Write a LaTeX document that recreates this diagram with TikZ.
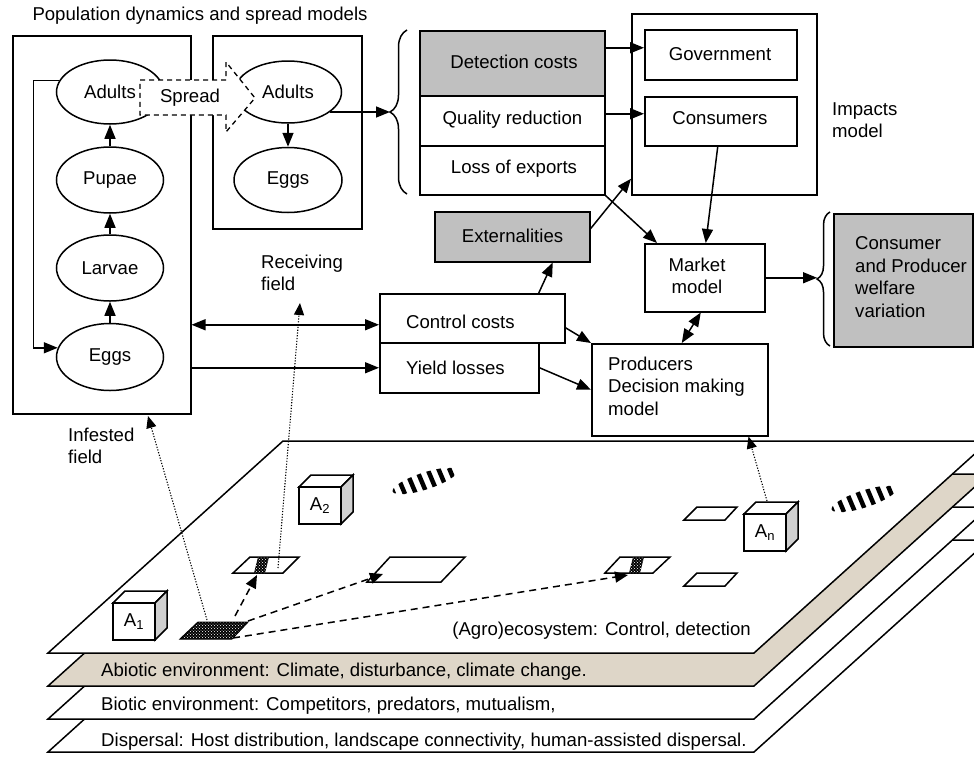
\documentclass[tikz,border=0pt]{standalone}
\usepackage{fontspec}
\setmainfont{Liberation Sans}
\usetikzlibrary{arrows.meta,shapes.geometric,patterns,decorations.pathreplacing,calc}
\definecolor{boxgrey}{RGB}{192,192,192}
\definecolor{layertan}{RGB}{222,214,200}
\definecolor{sidegrey}{RGB}{208,208,208}
\newcommand{\mycubeat}[4]{%
  \draw[line width=1.5pt, fill=white] (#1,#2) -- ++(12,-12) -- ++(42,0) -- ++(-12,12) -- cycle;
  \draw[line width=1.5pt, fill=sidegrey] (#1+42,#2) -- ++(12,-12) -- ++(0,37) -- ++(-12,12) -- cycle;
  \draw[line width=1.5pt, fill=white] (#1,#2) rectangle ++(42,37);
  \node (#4) at (#1+21,#2+18.5) {A\textsubscript{#3}};
}
\newcommand{\myhatch}[2]{%
  \begin{scope}
    \clip[rotate around={18:(#1,#2)}] (#1,#2) ellipse [x radius=34pt, y radius=8.5pt];
    \foreach \i in {0,...,7} \draw[line width=4.5pt] (#1-42+11*\i,#2-13) -- (#1-31+11*\i,#2+13);
  \end{scope}
}
\begin{document}
\begin{tikzpicture}[x=1pt,y=-1pt, line join=miter,
  every node/.style={font=\fontsize{18.6}{22.5}\selectfont},
  box/.style={draw, line width=1.5pt, rectangle, inner sep=0pt, anchor=north west},
  ell/.style={draw, line width=1.5pt, ellipse, minimum width=107pt, minimum height=64pt, inner sep=0pt},
  arr/.style={line width=1.5pt, -{Triangle[length=14pt,width=11pt]}},
  darr/.style={line width=1.5pt, {Triangle[length=14pt,width=11pt]}-{Triangle[length=14pt,width=11pt]}},
  dotarr/.style={line width=1.1pt, dash pattern=on 1.2pt off 1.6pt, -{Triangle[length=12pt,width=10pt]}},
  dasharr/.style={line width=1.5pt, dash pattern=on 7pt off 5pt, -{Triangle[length=13pt,width=11pt]}},
  lay/.style={draw, line width=1.5pt},
  fld/.style={draw, line width=1.5pt, fill=white},
  txt/.style={inner sep=0pt, anchor=west, align=left},
  brc/.style={decorate, line width=1.5pt},
]
\useasboundingbox (0,0) rectangle (974,756);
\clip (0,0) rectangle (974,756);

% ---------- landscape layers ----------
\foreach \o/\f in {99/white, 66/white, 33/layertan, 0/white}
  \draw[lay, fill=\f] (48,653+\o) -- (754,653+\o) -- (989,441+\o) -- (283,441+\o) -- cycle;
\node[inner sep=0pt, anchor=east] (agro) at (751,631) {(Agro)ecosystem: Control, detection};
\node[txt] (abio) at (101,672) {Abiotic environment: Climate, disturbance, climate change.};
\node[txt] (bio) at (101,706) {Biotic environment: Competitors, predators, mutualism,};
\node[txt] (disp) at (101,742) {Dispersal: Host distribution, landscape connectivity, human-assisted dispersal.};

% fields
\fill[black] (180,639) -- (232,639) -- (248,622) -- (198,622) -- cycle;
\fill[pattern=crosshatch dots, pattern color=white] (180,639) -- (232,639) -- (248,622) -- (198,622) -- cycle;
\draw[line width=1pt] (180,639) -- (232,639) -- (248,622) -- (198,622) -- cycle;

\draw[fld] (233,573) -- (283,573) -- (299,557) -- (250,557) -- cycle;
\fill[black] (254,573) -- (265,573) -- (269,557) -- (258,557) -- cycle;
\fill[pattern=crosshatch dots, pattern color=white] (254,573) -- (265,573) -- (269,557) -- (258,557) -- cycle;

\draw[fld] (367,582) -- (441,582) -- (465,557) -- (390,557) -- cycle;

\draw[fld] (605,573) -- (653,573) -- (670,557) -- (620,557) -- cycle;
\fill[black] (629,573) -- (640,573) -- (644,557) -- (633,557) -- cycle;
\fill[pattern=crosshatch dots, pattern color=white] (629,573) -- (640,573) -- (644,557) -- (633,557) -- cycle;

\draw[fld] (684,520) -- (725,520) -- (737,507) -- (697,507) -- cycle;
\draw[fld] (684,586) -- (725,586) -- (737,573) -- (697,573) -- cycle;

\myhatch{425}{481}
\myhatch{864}{499}

% cubes
\mycubeat{113}{603}{1}{a1}
\mycubeat{299}{487}{2}{a2}
\mycubeat{744}{514}{n}{an}

% ---------- population models ----------
\node[inner sep=0pt] (title) at (200,16) {Population dynamics and spread models};
\node[box, minimum width=178pt, minimum height=378pt] (popL) at (12,35) {};
\node[box, minimum width=149pt, minimum height=193pt] (popR) at (212,35) {};

\node[ell] (adL) at (110,92) {Adults};
\node[ell, minimum height=66pt] (puL) at (110,180) {Pupae};
\node[ell, minimum height=66pt] (laL) at (110,268) {Larvae};
\node[ell, minimum height=67pt] (egL) at (110,357) {Eggs};
\node[ell, minimum height=62pt] (adR) at (288,92) {Adults};
\node[ell, minimum width=108pt, minimum height=65pt] (egR) at (288,180) {Eggs};

\draw[arr] (puL.north) -- (adL.south);
\draw[arr] (laL.north) -- (puL.south);
\draw[arr] (egL.north) -- (laL.south);
\draw[arr] (adL.167) -- ++(-26,0) |- (egL.170);
\draw[arr] (adR.south) -- (egR.north);

% spread arrow
\draw[line width=1.3pt, dash pattern=on 5pt off 4pt, fill=white]
  (140,80) -- (226,80) -- (226,62) -- (255,98) -- (226,132) -- (226,115) -- (140,115) -- cycle;
\node[inner sep=0pt] (spread) at (190,98) {Spread};

% ---------- costs ----------
\coordinate (b1) at (390,112);
\draw[brc, decoration={brace, amplitude=17pt}] (407,194) -- (407,30);
\draw[arr] (adR.-25 |- b1) -- (b1);

\node[box, fill=boxgrey, minimum width=185pt, minimum height=65pt] (det) at (419,30) {};
\node (dett) at (514,62) {Detection costs};
\node[box, minimum width=185pt, minimum height=50pt] (qual) at (419,95) {};
\node (qualt) at (512.5,120) {Quality reduction};
\node[box, minimum width=185pt, minimum height=49pt] (loss) at (419,145) {};
\node (losst) at (514,169) {Loss of exports};

% impacts
\node[box, minimum width=185pt, minimum height=181pt] (imp) at (631,13) {};
\node[box, minimum width=152pt, minimum height=50pt] (gov) at (644,29) {};
\node (govt) at (720,54) {Government};
\node[box, minimum width=152pt, minimum height=49pt] (cons) at (644,96) {};
\node (const) at (720,118) {Consumers};
\node[txt] (impt) at (832,120) {Impacts\\model};

\coordinate (dg) at ([yshift=15.5pt]det.east);
\draw[arr] (dg) -- (dg -| gov.west);
\coordinate (qc) at ([yshift=7pt]qual.east);
\draw[arr] (qc) -- (qc -| cons.west);

% externalities
\node[box, fill=boxgrey, minimum width=155pt, minimum height=50pt] (ext) at (434,211) {};
\node (extt) at (512.5,236) {Externalities};
\draw[arr] ([yshift=8pt]ext.east) -- ([yshift=-74.5pt]imp.west);

% market
\node[box, minimum width=120pt, minimum height=68pt] (mkt) at (644,243) {};
\node[inner sep=0pt, align=center] (mktt) at (697,276) {Market\\model};
\draw[arr] (loss.south east) -- ([xshift=13pt]mkt.north west);
\draw[arr] ([xshift=-3pt]cons.south) -- ([xshift=1pt]mkt.north);

% welfare
\coordinate (b2) at (817,279);
\draw[brc, decoration={brace, amplitude=13pt}] (830,346) -- (830,212);
\node[box, fill=boxgrey, minimum width=139pt, minimum height=133pt] (welf) at (833,213) {};
\node[txt] (welft) at (855,277) {Consumer\\and Producer\\welfare\\variation};
\draw[arr] (mkt.east) -- (mkt.east -| b2);

% producers
\node[box, minimum width=176pt, minimum height=92pt] (prod) at (591,343) {};
\node[txt] (prodt) at (608,386) {Producers\\Decision making\\model};
\draw[darr] ([xshift=-4pt]mkt.south) -- ([xshift=2pt]prod.north);

% control / yield
\node[box, minimum width=185pt, minimum height=49pt] (ctrl) at (379,293) {};
\node[txt] (ctrlt) at (406,322) {Control costs};
\node[box, minimum width=159pt, minimum height=50pt] (yld) at (379,342) {};
\node[txt] (yldt) at (406,368) {Yield losses};

\draw[arr] ([xshift=66.5pt]ctrl.north) -- ([xshift=40.5pt]ext.south);
\draw[arr] ([yshift=-9.5pt]ctrl.east) -- (prod.north west);
\draw[arr] (yld.east) -- (prod.west);

\coordinate (cw) at ([yshift=-6.5pt]ctrl.west);
\draw[darr] (popL.east |- cw) -- (cw);
\draw[arr] (popL.east |- yld.west) -- (yld.west);

% labels for fields
\node[txt] (recv) at (261,273) {Receiving\\field};
\node[txt] (inft) at (68,446) {Infested\\field};

% dotted connectors
\coordinate (infp) at (207,620);
\coordinate (inftip) at (148,416);
\coordinate (rfp) at (278,568);
\coordinate (rftip) at (300,303);
\coordinate (anp) at (767,501);
\draw[dotarr] (infp) -- (inftip);
\draw[dotarr] (rfp) -- (rftip);
\draw[dotarr] (anp) -- ([xshift=-20pt]prod.south east);

% dashed dispersal arrows
\coordinate (d1s) at (235,616);
\coordinate (d1e) at (257,575);
\coordinate (d2s) at (248,621);
\coordinate (d2e) at (383,574);
\coordinate (d3s) at (233,638);
\coordinate (d3e) at (628,575);
\draw[dasharr] (d1s) -- (d1e);
\draw[dasharr] (d2s) -- (d2e);
\draw[dasharr] (d3s) -- (d3e);
\end{tikzpicture}
\end{document}
